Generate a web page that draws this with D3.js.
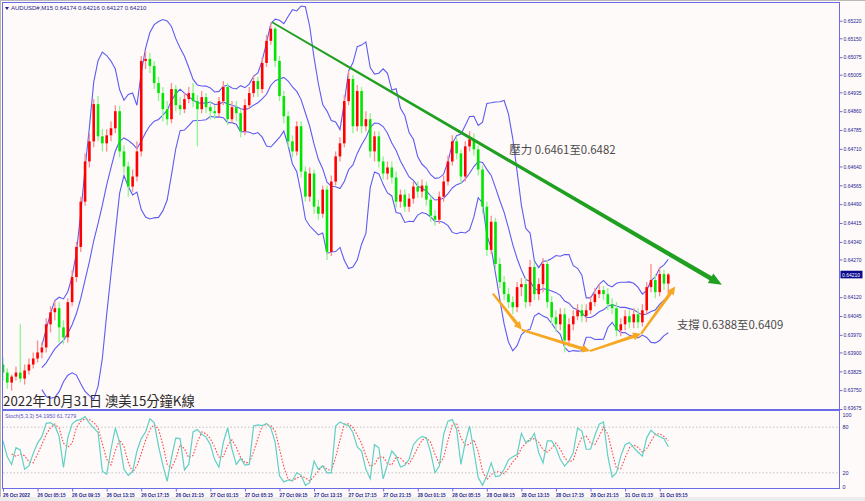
<!DOCTYPE html>
<html><head><meta charset="utf-8">
<script src="https://cdn.jsdelivr.net/npm/d3@7"></script>
<style>body{margin:0;background:#fffafa;} svg{display:block}</style>
</head><body><svg id="c" width="865" height="501"></svg>
<script>
// ---------- DATA (30-min readings of the AUDUSD M15 chart) ----------
const openP = [
0.63852,0.63820,0.63780,0.63804,0.63820,0.63796,0.63828,0.63852,0.63876,0.63900,
0.63920,0.64012,0.64060,0.64076,0.64000,0.63960,0.64100,0.64200,0.64320,0.64500,
0.64660,0.64740,0.64888,0.64760,0.64732,0.64764,0.64792,0.64860,0.64700,0.64640,
0.64560,0.64600,0.64700,0.65060,0.65068,0.65040,0.64972,0.64932,0.64868,0.64828,
0.64948,0.64884,0.64868,0.64908,0.64932,0.64900,0.64868,0.64916,0.64876,0.64860,
0.64852,0.64900,0.64956,0.64828,0.64876,0.64852,0.64780,0.64884,0.64932,0.64980,
0.64948,0.65052,0.65140,0.65188,0.65060,0.64920,0.64840,0.64740,0.64700,0.64800,
0.64620,0.64520,0.64612,0.64480,0.64452,0.64548,0.64300,0.64580,0.64680,0.64732,
0.64900,0.64988,0.64800,0.64940,0.64800,0.64828,0.64700,0.64760,0.64660,0.64612,
0.64636,0.64596,0.64500,0.64528,0.64480,0.64512,0.64560,0.64540,0.64564,0.64508,
0.64444,0.64428,0.64520,0.64580,0.64660,0.64740,0.64692,0.64600,0.64720,0.64748,
0.64708,0.64628,0.64480,0.64308,0.64420,0.64252,0.64180,0.64132,0.64100,0.64080,
0.64160,0.64172,0.64100,0.64240,0.64132,0.64172,0.64252,0.64100,0.64040,0.64012,
0.64052,0.63948,0.64012,0.64044,0.64068,0.64044,0.64068,0.64100,0.64132,0.64148,
0.64132,0.64092,0.64076,0.63988,0.64012,0.64044,0.64020,0.64052,0.64020,0.64068,
0.64160,0.64188,0.64140,0.64212,0.64174];
const highP = [
0.63880,0.63836,0.63812,0.63844,0.64012,0.63852,0.63876,0.63900,0.63948,0.63940,
0.64036,0.64084,0.64108,0.64100,0.64028,0.64116,0.64228,0.64340,0.64520,0.64692,
0.64772,0.64908,0.64920,0.64788,0.64788,0.64820,0.64884,0.64880,0.64724,0.64660,
0.64628,0.64740,0.65080,0.65100,0.65092,0.65060,0.64996,0.64956,0.64900,0.64972,
0.64964,0.64916,0.64932,0.64956,0.64972,0.64924,0.64940,0.64932,0.64900,0.64884,
0.64916,0.64980,0.64972,0.64900,0.64900,0.64868,0.64908,0.64956,0.65004,0.64996,
0.65076,0.65164,0.65212,0.65196,0.65080,0.64940,0.64860,0.64764,0.64820,0.64820,
0.64640,0.64636,0.64628,0.64508,0.64564,0.64564,0.64604,0.64700,0.64756,0.64924,
0.65020,0.65004,0.64964,0.64956,0.64860,0.64852,0.64780,0.64780,0.64680,0.64660,
0.64660,0.64620,0.64548,0.64548,0.64532,0.64580,0.64580,0.64588,0.64580,0.64524,
0.64468,0.64540,0.64604,0.64684,0.64764,0.64756,0.64708,0.64740,0.64780,0.64772,
0.64724,0.64644,0.64500,0.64444,0.64436,0.64276,0.64204,0.64156,0.64124,0.64180,
0.64196,0.64196,0.64268,0.64260,0.64196,0.64276,0.64268,0.64124,0.64068,0.64076,
0.64076,0.64036,0.64068,0.64092,0.64092,0.64092,0.64124,0.64156,0.64172,0.64164,
0.64156,0.64116,0.64100,0.64036,0.64068,0.64068,0.64076,0.64076,0.64092,0.64180,
0.64252,0.64212,0.64236,0.64228,0.64216];
const lowP = [
0.63788,0.63756,0.63748,0.63788,0.63780,0.63772,0.63812,0.63836,0.63860,0.63876,
0.63900,0.63980,0.64028,0.63940,0.63932,0.63940,0.64084,0.64180,0.64300,0.64484,
0.64636,0.64716,0.64740,0.64700,0.64700,0.64740,0.64772,0.64676,0.64612,0.64520,
0.64540,0.64580,0.64680,0.65028,0.65012,0.64948,0.64900,0.64820,0.64804,0.64812,
0.64860,0.64844,0.64852,0.64892,0.64876,0.64720,0.64852,0.64852,0.64828,0.64828,
0.64836,0.64884,0.64804,0.64812,0.64820,0.64756,0.64764,0.64868,0.64916,0.64916,
0.64932,0.65036,0.65124,0.65036,0.64900,0.64812,0.64716,0.64676,0.64684,0.64596,
0.64500,0.64500,0.64452,0.64428,0.64436,0.64268,0.64284,0.64564,0.64660,0.64716,
0.64884,0.64772,0.64780,0.64772,0.64780,0.64676,0.64660,0.64636,0.64588,0.64588,
0.64572,0.64476,0.64476,0.64460,0.64460,0.64492,0.64516,0.64516,0.64484,0.64420,
0.64404,0.64412,0.64500,0.64564,0.64644,0.64668,0.64572,0.64580,0.64700,0.64684,
0.64604,0.64452,0.64284,0.64292,0.64228,0.64156,0.64108,0.64076,0.64052,0.64060,
0.64124,0.64076,0.64084,0.64108,0.64108,0.64140,0.64076,0.64012,0.63980,0.63988,
0.63900,0.63924,0.63988,0.64028,0.64020,0.64020,0.64052,0.64084,0.64116,0.64108,
0.64068,0.64052,0.63964,0.63964,0.63988,0.63996,0.63996,0.63996,0.64004,0.64052,
0.64140,0.64116,0.64124,0.64148,0.64127];
const closeP = [
0.63820,0.63780,0.63804,0.63820,0.63796,0.63828,0.63852,0.63876,0.63900,0.63920,
0.64012,0.64060,0.64076,0.64000,0.63960,0.64100,0.64200,0.64320,0.64500,0.64660,
0.64740,0.64888,0.64760,0.64732,0.64764,0.64792,0.64860,0.64700,0.64640,0.64560,
0.64600,0.64700,0.65060,0.65068,0.65040,0.64972,0.64932,0.64868,0.64828,0.64948,
0.64884,0.64868,0.64908,0.64932,0.64900,0.64868,0.64916,0.64876,0.64860,0.64852,
0.64900,0.64956,0.64828,0.64876,0.64852,0.64780,0.64884,0.64932,0.64980,0.64948,
0.65052,0.65140,0.65188,0.65060,0.64920,0.64840,0.64740,0.64700,0.64800,0.64620,
0.64520,0.64612,0.64480,0.64452,0.64548,0.64300,0.64580,0.64680,0.64732,0.64900,
0.64988,0.64800,0.64940,0.64800,0.64828,0.64700,0.64760,0.64660,0.64612,0.64636,
0.64596,0.64500,0.64528,0.64480,0.64512,0.64560,0.64540,0.64564,0.64508,0.64444,
0.64428,0.64520,0.64580,0.64660,0.64740,0.64692,0.64600,0.64720,0.64748,0.64708,
0.64628,0.64480,0.64308,0.64420,0.64252,0.64180,0.64132,0.64100,0.64080,0.64160,
0.64172,0.64100,0.64240,0.64132,0.64172,0.64252,0.64100,0.64040,0.64012,0.64052,
0.63948,0.64012,0.64044,0.64068,0.64044,0.64068,0.64100,0.64132,0.64148,0.64132,
0.64092,0.64076,0.63988,0.64012,0.64044,0.64020,0.64052,0.64020,0.64068,0.64160,
0.64188,0.64140,0.64212,0.64174,0.64210];
const stochMain = [
61.8,41,31,53,50,24.6,29,45.6,59,67.5,
85,86,82,68,27,66,84,89,90,94,
85.5,79,73,22,18,51,79,60,24.6,16.7,
21.5,48.7,65,73.7,91,86,55,30,8.8,40,
66,65,23.7,31,73.7,77,70.6,67,57,37,
27.6,60,79,51,31,39,30,31,81.6,83,
82,85,79,60,16,8,10.5,9.6,20,16.7,
3.5,7,35.5,24.6,29,20,20,81.6,87,84,
82,73,54,48.7,24.6,12,57,53,12,31,
48.7,42,27.6,30,37.7,57,64,68,66,46.5,
20,29,70.6,88,90,77,31,60,81.6,48.7,
13.6,3.5,16,33,15,16,24.6,37,41,44,
72,60,62,72,46.5,33,62,62,53,37.7,
29,35.5,46.5,79,75,51,51,69,84,87,
42,14.5,20,42,57,60,53,47,42,66,
76,70.6,67.5,65,54.195];
const priceTicks = ["0.65220","0.65150","0.65075","0.65005","0.64935","0.64860","0.64785","0.64710","0.64640","0.64565","0.64490","0.64415","0.64340","0.64270","0.64120","0.64045","0.63970","0.63900","0.63825","0.63750","0.63675"];
const timeLabels = ["26 Oct 2022","26 Oct 05:15","26 Oct 09:15","26 Oct 13:15","26 Oct 17:15","26 Oct 21:15","27 Oct 01:15","27 Oct 05:15","27 Oct 09:15","27 Oct 13:15","27 Oct 17:15","27 Oct 21:15","28 Oct 01:15","28 Oct 05:15","28 Oct 09:15","28 Oct 13:15","28 Oct 17:15","28 Oct 21:15","31 Oct 01:15","31 Oct 05:15"];
const timeLabelBar = [0,8,16,24,32,40,48,56,64,72,80,88,96,104,112,120,128,136,144,152];
const stochLevels = [100,80,20,0];
const resistancePts = [[62.3,0.65214],[166.4,0.64169]];
const supportPts = [[113.4,0.64134],[120.1,0.63990],[135.9,0.63906],[147.7,0.63974],[155.6,0.64162]];
const resistanceText = {bar:117.2, price:0.64707, text:"壓力 0.6461至0.6482"};
const supportText = {bar:156.0, price:0.64011, text:"支撐 0.6388至0.6409"};
const titleText = "2022年10月31日 澳美15分鐘K線";
const headerText = "AUDUSD#,M15  0.64174 0.64216 0.64127 0.64210";
const stochText = "Stoch(5,3,3) 54.1950 61.7279";
const lastPrice = 0.64210;
const bbPeriod = 10, bbDev = 2;

// ---------- LAYOUT ----------
const svg = d3.select('#c');
const L=3, R=839, T=3, MB=409, ST=411, SB=488;
const n = closeP.length;
const x = d3.scaleLinear().domain([0, n-1]).range([3, 668.3]);
const y = d3.scaleLinear().domain([0.63675, 0.65220]).range([409, 20.7]);
const ys = d3.scaleLinear().domain([0,100]).range([488, 412]);
const frameCol = '#6b6be6', axisText = '#24248f';
const sans = 'Liberation Sans, Arial, sans-serif';

svg.append('rect').attr('x',0).attr('y',0).attr('width',865).attr('height',501).attr('fill','#fffafa');
svg.append('rect').attr('x',0).attr('y',497).attr('width',865).attr('height',4).attr('fill','#ececec');
svg.append('line').attr('x1',0).attr('x2',865).attr('y1',0.5).attr('y2',0.5).attr('stroke','#b8b8b8');
svg.append('line').attr('x1',0.5).attr('x2',0.5).attr('y1',0).attr('y2',497).attr('stroke','#b8b8b8');

const defs = svg.append('defs');
defs.append('clipPath').attr('id','mclip').append('rect').attr('x',L).attr('y',T).attr('width',R-L).attr('height',MB-T);
defs.append('clipPath').attr('id','sclip').append('rect').attr('x',L).attr('y',ST).attr('width',R-L).attr('height',SB-ST);

const main = svg.append('g').attr('clip-path','url(#mclip)');

// Bollinger bands (computed from closes)
const bands = closeP.map((c,i)=>{
  if(i < bbPeriod-1) return null;
  const w = closeP.slice(i-bbPeriod+1, i+1);
  const m = d3.mean(w);
  const sd = Math.sqrt(d3.mean(w, v=>(v-m)*(v-m)));
  return {i, m, u: m+bbDev*sd, l: m-bbDev*sd};
}).filter(d=>d);
['u','m','l'].forEach(k=>{
  main.append('path').datum(bands)
    .attr('d', d3.line().x(d=>x(d.i)).y(d=>y(d[k])))
    .attr('fill','none').attr('stroke','#5c5cf2').attr('stroke-width',1.1);
});

// candles
const cd = closeP.map((c,i)=>({i,o:openP[i],h:highP[i],l:lowP[i],c}));
const cg = main.append('g');
cg.selectAll('line.w').data(cd).join('line')
  .attr('x1',d=>x(d.i)).attr('x2',d=>x(d.i)).attr('y1',d=>y(d.h)).attr('y2',d=>y(d.l))
  .attr('stroke',d=>d.c>=d.o?'#ff8c8c':'#8cf58c').attr('stroke-width',1.3);
cg.selectAll('rect.b').data(cd).join('rect')
  .attr('x',d=>x(d.i)-1.3).attr('width',2.6)
  .attr('y',d=>y(Math.max(d.o,d.c))).attr('height',d=>Math.max(1,Math.abs(y(d.o)-y(d.c))))
  .attr('fill',d=>d.c>=d.o?'#ff0000':'#00e600');

function arrowPoly(a,b,head,hw,w0,w1){
  const dx=b[0]-a[0], dy=b[1]-a[1], len=Math.hypot(dx,dy), ux=dx/len, uy=dy/len, nx=-uy, ny=ux;
  const bx=b[0]-ux*head, by=b[1]-uy*head;
  const poly=[[a[0]+nx*w0,a[1]+ny*w0],[bx+nx*w1,by+ny*w1],[bx+nx*hw,by+ny*hw],b,[bx-nx*hw,by-ny*hw],[bx-nx*w1,by-ny*w1],[a[0]-nx*w0,a[1]-ny*w0]];
  return 'M'+poly.map(p=>p.join(',')).join('L')+'Z';
}
// resistance trend line (tapered) with arrow
{
  const [a,b] = resistancePts.map(p=>[x(p[0]), y(p[1])]);
  svg.append('path').attr('d',arrowPoly(a,b,13,5.5,0.8,2.3)).attr('fill','#20a020');
}
// support arrows
{
  const pts = supportPts.map(p=>[x(p[0]), y(p[1])]);
  for(let k=0;k<pts.length-1;k++){
    svg.append('path').attr('d',arrowPoly(pts[k],pts[k+1],8,4,1.1,1.7)).attr('fill','#f7a823');
  }
}
// annotations
const cjk = "'Noto Sans CJK TC','Noto Sans CJK SC',sans-serif";
[resistanceText, supportText].forEach(t=>{
  svg.append('text').attr('x',x(t.bar)).attr('y',y(t.price)).attr('dy','0.36em')
    .attr('font-family',cjk).attr('font-size',11.4).attr('fill','#4a4a4a').text(t.text);
});

// frames
svg.append('rect').attr('x',L-0.5).attr('y',T-0.5).attr('width',R-L+1).attr('height',MB-T+1)
  .attr('fill','none').attr('stroke',frameCol).attr('stroke-width',1);
svg.append('line').attr('x1',L-1).attr('x2',R+1).attr('y1',410).attr('y2',410).attr('stroke',frameCol).attr('stroke-width',2);
svg.append('rect').attr('x',L-0.5).attr('y',ST-0.5).attr('width',R-L+1).attr('height',SB-ST+1)
  .attr('fill','none').attr('stroke',frameCol).attr('stroke-width',1);

// price axis
const pa = svg.append('g').attr('transform',`translate(${R+0.5},0)`)
  .call(d3.axisRight(y).tickValues(priceTicks.map(Number)).tickFormat((d,i)=>priceTicks[i]).tickSize(3).tickPadding(1));
pa.select('.domain').remove();
pa.selectAll('line').attr('stroke',frameCol);
pa.selectAll('text').attr('fill',axisText).attr('font-size',5.6).attr('font-family',sans)
  .attr('textLength',18).attr('lengthAdjust','spacingAndGlyphs');
pa.selectAll('.tick').filter(d=>Math.abs(d-0.63675)<1e-6).select('text').attr('dy','0.05em');
// current price box
svg.append('rect').attr('x',R+1.5).attr('y',y(lastPrice)-3.8).attr('width',22).attr('height',7.6).attr('fill','#0a0a8c');
svg.append('text').attr('x',R+3).attr('y',y(lastPrice)).attr('dy','0.35em').attr('fill','#fff')
  .attr('font-size',5.6).attr('font-family',sans).attr('textLength',18).attr('lengthAdjust','spacingAndGlyphs')
  .text(lastPrice.toFixed(5));

// stochastic
const sg = svg.append('g').attr('clip-path','url(#sclip)');
[80,20].forEach(v=>sg.append('line').attr('x1',L).attr('x2',R).attr('y1',ys(v)).attr('y2',ys(v))
  .attr('stroke','#b4b4b4').attr('stroke-dasharray','1.5,2').attr('stroke-width',0.8));
const sig = stochMain.map((v,i)=> i<2 ? null : {i, v:d3.mean(stochMain.slice(i-2,i+1))}).filter(d=>d);
sg.append('path').datum(sig).attr('d',d3.line().x(d=>x(d.i)).y(d=>ys(d.v)))
  .attr('fill','none').attr('stroke','#ff4a4a').attr('stroke-width',1.1).attr('stroke-dasharray','1.6,1.6');
sg.append('path').datum(stochMain.map((v,i)=>({i,v}))).attr('d',d3.line().x(d=>x(d.i)).y(d=>ys(d.v)))
  .attr('fill','none').attr('stroke','#5fd0c4').attr('stroke-width',1.2);
const sa = svg.append('g').attr('transform',`translate(${R+0.5},0)`)
  .call(d3.axisRight(ys).tickValues(stochLevels).tickSize(0).tickPadding(3));
sa.select('.domain').remove();
sa.selectAll('text').attr('fill',axisText).attr('font-size',5.4).attr('font-family',sans);
sa.selectAll('.tick').filter(d=>d===100).select('text').attr('dy','0.9em');
sa.selectAll('.tick').filter(d=>d===0).select('text').attr('dy','0.1em');

// time axis
const ta = svg.append('g').attr('transform',`translate(0,${SB+0.5})`)
  .call(d3.axisBottom(x).tickValues(timeLabelBar).tickFormat((d,i)=>timeLabels[i]).tickSize(3).tickPadding(1.5));
ta.select('.domain').remove();
ta.selectAll('line').attr('stroke',frameCol);
ta.selectAll('text').attr('text-anchor','start').attr('dx',-0.5).attr('fill',axisText).attr('font-size',5.8)
  .attr('font-weight','bold').attr('font-family',sans)
  .attr('textLength',(d,i)=>i===0?27:28).attr('lengthAdjust','spacingAndGlyphs');

// header texts
svg.append('path').attr('d','M5,7 L9,7 L7,10 Z').attr('fill','#24248f');
svg.append('text').attr('x',11).attr('y',10).attr('font-size',6).attr('fill','#24248f')
  .attr('font-family',sans).text(headerText);
svg.append('text').attr('x',5).attr('y',418).attr('font-size',5.4).attr('fill','#5050c8')
  .attr('font-family',sans).text(stochText);
svg.append('text').attr('x',3).attr('y',406).attr('font-size',13.3).attr('fill','#2a2a2a')
  .attr('font-family',cjk).text(titleText);
</script></body></html>
